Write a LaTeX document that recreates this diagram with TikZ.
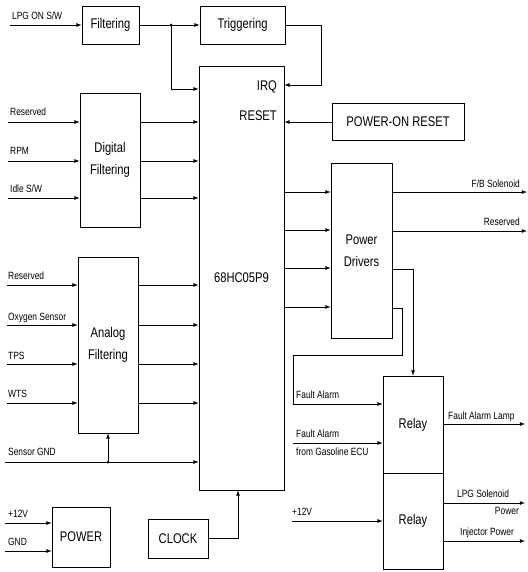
\documentclass[tikz,border=0pt]{standalone}
\usepackage{fontspec}
\setmainfont[FakeStretch=0.8]{Liberation Sans}
\pgfdeclarelayer{edgelayer}
\pgfdeclarelayer{nodelayer}
\pgfsetlayers{edgelayer,nodelayer,main}
\tikzstyle{block}=[draw=black, fill=white, line width=0.8pt, inner sep=0pt, align=center, font=\fontsize{14}{17}\selectfont]
\tikzstyle{tag}=[inner sep=0pt, anchor=base west, font=\fontsize{10.5}{12}\selectfont]
\tikzstyle{pin}=[inner sep=0pt, anchor=base east, font=\fontsize{14}{17}\selectfont]
\tikzstyle{edge}=[draw=black, line width=0.8pt]
\tikzstyle{arrowedge}=[draw=black, line width=0.8pt, -latex]
\tikzstyle{junction}=[circle, fill=black, inner sep=0pt, minimum size=3pt]

\begin{document}
\begin{tikzpicture}[x=1pt, y=-1pt]
	\useasboundingbox (0, 0) rectangle (527, 572);
	\begin{pgfonlayer}{nodelayer}
		\node [style=block, minimum width=57, minimum height=38] (1) at (110.5, 25) {Filtering};
		\node [style=block, minimum width=85, minimum height=38] (2) at (242.5, 25) {Triggering};
		\node [style=block, minimum width=85, minimum height=424] (3) at (241.5, 278) {68HC05P9};
		\node [style=block, minimum width=132, minimum height=37] (4) at (398, 122) {POWER-ON RESET};
		\node [style=block, minimum width=60, minimum height=134] (5) at (110, 160) {Digital\\[5pt]Filtering};
		\node [style=block, minimum width=60, minimum height=176] (6) at (108, 345) {Analog\\[5pt]Filtering};
		\node [style=block, minimum width=61, minimum height=175] (7) at (361.5, 250.5) {Power\\[5pt]Drivers};
		\node [style=block, minimum width=60, minimum height=97] (8) at (413, 424.5) {Relay};
		\node [style=block, minimum width=60, minimum height=96] (9) at (413, 521) {Relay};
		\node [style=block, minimum width=58, minimum height=60] (10) at (81, 537) {POWER};
		\node [style=block, minimum width=60, minimum height=39] (11) at (178, 538.5) {CLOCK};
		\node [style=pin] (irq) at (277, 91) {IRQ};
		\node [style=pin] (rst) at (277, 121) {RESET};
	\end{pgfonlayer}

	% signal names
	\node [style=tag] (n1) at (12, 20) {LPG ON S/W};
	\node [style=tag] (n2) at (10, 116) {Reserved};
	\node [style=tag] (n3) at (10, 155) {RPM};
	\node [style=tag] (n4) at (10, 192) {Idle S/W};
	\node [style=tag] (n5) at (8, 279) {Reserved};
	\node [style=tag] (n6) at (8, 320) {Oxygen Sensor};
	\node [style=tag] (n7) at (8, 359) {TPS};
	\node [style=tag] (n8) at (8, 397) {WTS};
	\node [style=tag] (n9) at (8, 455) {Sensor GND};
	\node [style=tag] (n10) at (8, 517) {+12V};
	\node [style=tag] (n11) at (8, 545) {GND};
	\node [style=tag, anchor=base east] (n12) at (520, 187) {F/B Solenoid};
	\node [style=tag, anchor=base east] (n13) at (520, 225) {Reserved};
	\node [style=tag] (n14) at (296, 398) {Fault Alarm};
	\node [style=tag] (n15) at (296, 437) {Fault Alarm};
	\node [style=tag] (n16) at (296, 455) {from Gasoline ECU};
	\node [style=tag] (n17) at (292, 515) {+12V};
	\node [style=tag] (n18) at (448, 419) {Fault Alarm Lamp};
	\node [style=tag] (n19) at (457, 497) {LPG Solenoid};
	\node [style=tag, anchor=base east] (n20) at (519, 514) {Power};
	\node [style=tag] (n21) at (460, 535) {Injector Power};

	% free ends and bends
	\coordinate (c1) at (10, 25);
	\coordinate (c2) at (171, 89);
	\coordinate (t1) at (321, 25);
	\coordinate (t2) at (321, 85);
	\coordinate (d1) at (8, 122);
	\coordinate (d2) at (8, 161);
	\coordinate (d3) at (8, 198);
	\coordinate (a1) at (7, 285);
	\coordinate (a2) at (7, 325);
	\coordinate (a3) at (7, 364);
	\coordinate (a4) at (7, 403);
	\coordinate (g1) at (5, 462);
	\coordinate (p1) at (5, 523);
	\coordinate (p2) at (5, 551);
	\coordinate (k1) at (238, 538.5);
	\coordinate (r1) at (300, 192);
	\coordinate (r2) at (300, 230);
	\coordinate (r3) at (300, 268);
	\coordinate (r4) at (300, 307);
	\coordinate (o1) at (527, 192);
	\coordinate (o2) at (527, 231);
	\coordinate (b1) at (413, 269);
	\coordinate (b2) at (402, 308);
	\coordinate (b3) at (402, 355);
	\coordinate (b4) at (293, 355);
	\coordinate (b5) at (293, 404);
	\coordinate (e1) at (293, 443);
	\coordinate (e2) at (292, 521);
	\coordinate (q1) at (525, 424);
	\coordinate (q2) at (525, 503);
	\coordinate (q3) at (525, 541);
	\node [style=junction] (j1) at (171, 25) {};
	\node [style=junction] (j2) at (108, 462) {};

	\begin{pgfonlayer}{edgelayer}
		\draw [style=arrowedge] (c1) to (1.west);
		\draw [style=arrowedge] (1.east) to (2.west);
		\draw [style=arrowedge] (j1.center) -- (c2) -- (c2 -| 3.west);
		\draw [style=arrowedge] (2.east) -- (t1) -- (t2) -- (t2 -| 3.east);
		\draw [style=arrowedge] (4.west) to (4.west -| 3.east);
		\draw [style=arrowedge] (d1) to (d1 -| 5.west);
		\draw [style=arrowedge] (d2) to (d2 -| 5.west);
		\draw [style=arrowedge] (d3) to (d3 -| 5.west);
		\draw [style=arrowedge] (d1 -| 5.east) to (d1 -| 3.west);
		\draw [style=arrowedge] (d2 -| 5.east) to (d2 -| 3.west);
		\draw [style=arrowedge] (d3 -| 5.east) to (d3 -| 3.west);
		\draw [style=arrowedge] (a1) to (a1 -| 6.west);
		\draw [style=arrowedge] (a2) to (a2 -| 6.west);
		\draw [style=arrowedge] (a3) to (a3 -| 6.west);
		\draw [style=arrowedge] (a4) to (a4 -| 6.west);
		\draw [style=arrowedge] (a1 -| 6.east) to (a1 -| 3.west);
		\draw [style=arrowedge] (a2 -| 6.east) to (a2 -| 3.west);
		\draw [style=arrowedge] (a3 -| 6.east) to (a3 -| 3.west);
		\draw [style=arrowedge] (a4 -| 6.east) to (a4 -| 3.west);
		\draw [style=arrowedge] (g1) to (g1 -| 3.west);
		\draw [style=arrowedge] (j2.center) to (6.south);
		\draw [style=arrowedge] (p1) to (p1 -| 10.west);
		\draw [style=arrowedge] (p2) to (p2 -| 10.west);
		\draw [style=arrowedge] (11.east) -- (k1) -- (k1 |- 3.south);
		\draw [style=arrowedge] (r1 -| 3.east) to (r1 -| 7.west);
		\draw [style=arrowedge] (r2 -| 3.east) to (r2 -| 7.west);
		\draw [style=arrowedge] (r3 -| 3.east) to (r3 -| 7.west);
		\draw [style=arrowedge] (r4 -| 3.east) to (r4 -| 7.west);
		\draw [style=arrowedge] (o1 -| 7.east) to (o1);
		\draw [style=arrowedge] (o2 -| 7.east) to (o2);
		\draw [style=arrowedge] (b1 -| 7.east) -- (b1) -- (b1 |- 8.north);
		\draw [style=arrowedge] (b2 -| 7.east) -- (b2) -- (b3) -- (b4) -- (b5) -- (b5 -| 8.west);
		\draw [style=arrowedge] (e1) to (e1 -| 8.west);
		\draw [style=arrowedge] (e2) to (e2 -| 9.west);
		\draw [style=arrowedge] (q1 -| 8.east) to (q1);
		\draw [style=arrowedge] (q2 -| 9.east) to (q2);
		\draw [style=arrowedge] (q3 -| 9.east) to (q3);
	\end{pgfonlayer}
\end{tikzpicture}
\end{document}
